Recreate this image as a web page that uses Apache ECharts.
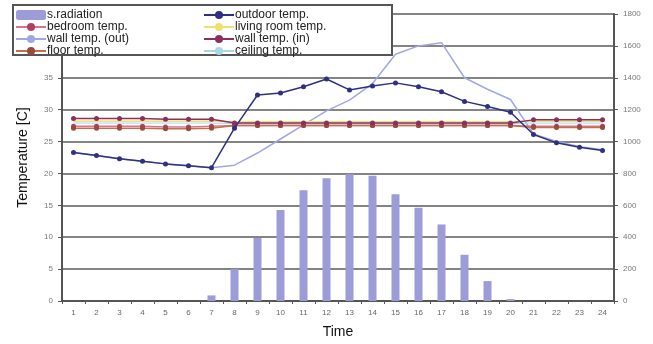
<!DOCTYPE html>
<html><head><meta charset="utf-8">
<script src="https://cdn.jsdelivr.net/npm/echarts@6/dist/echarts.min.js"></script>
<style>html,body{margin:0;padding:0;background:#fff}#c{width:653px;height:344px}</style>
</head><body><div id="c"></div>
<script>
var hours = ['1','2','3','4','5','6','7','8','9','10','11','12','13','14','15','16','17','18','19','20','21','22','23','24'];
var radiation = [0,0,0,0,0,0,35,200,395,570,695,770,795,785,670,585,480,290,125,12,0,0,0,0];
var outdoorTemp = [23.3,22.8,22.3,21.9,21.5,21.2,20.9,27.1,32.3,32.6,33.6,34.8,33.1,33.7,34.2,33.6,32.8,31.3,30.5,29.6,26.1,24.8,24.1,23.6];
var bedroomTemp = [27.4,27.4,27.4,27.4,27.3,27.3,27.4,27.5,27.5,27.5,27.5,27.5,27.5,27.5,27.5,27.5,27.5,27.5,27.5,27.5,27.4,27.4,27.4,27.4];
var livingTemp = [28.2,28.2,28.2,28.2,28.2,28.2,28.2,28.1,28.1,28.1,28.1,28.1,28.1,28.1,28.1,28.1,28.1,28.1,28.1,28.1,28.2,28.2,28.2,28.2];
var wallOutTemp = [23.3,22.8,22.3,21.9,21.5,21.2,20.9,21.3,23.2,25.4,27.6,29.8,31.5,34.1,38.7,40.0,40.5,35.0,33.2,31.6,26.2,25.0,24.2,23.7];
var wallInTemp = [28.6,28.6,28.6,28.6,28.5,28.5,28.5,27.9,27.9,27.9,27.9,27.9,27.9,27.9,27.9,27.9,27.9,27.9,27.9,27.9,28.4,28.4,28.4,28.4];
var floorTemp = [27.1,27.1,27.1,27.1,27.0,27.0,27.1,27.5,27.5,27.5,27.5,27.5,27.5,27.5,27.5,27.5,27.5,27.5,27.5,27.5,27.2,27.2,27.2,27.2];
var ceilingTemp = [27.9,27.9,27.9,27.9,27.9,27.9,27.9,27.8,27.8,27.8,27.8,27.8,27.8,27.8,27.8,27.8,27.8,27.8,27.8,27.8,27.9,27.9,27.9,27.9];
var leftTicks = {min:0,max:45,interval:5};
var rightTicks = {min:0,max:1800,interval:200};

var chart = echarts.init(document.getElementById('c'));
var F = 'Liberation Sans, Arial, sans-serif';
function lineS(name, data, color, mcolor, sym, width, z){
  return {name:name, type:'line', yAxisIndex:0, data:data, symbol:sym, symbolSize:5,
    lineStyle:{color:color,width:width||1.5}, itemStyle:{color:mcolor||color}, z:z||3, animation:false};
}
chart.setOption({
  animation:false,
  textStyle:{fontFamily:F},
  grid:{left:62,right:39,top:14,bottom:37},
  graphic:[{type:'rect',z:50,shape:{x:13,y:5,width:379,height:50},style:{fill:'#fff',stroke:'#555',lineWidth:2}}],
  legend:[
    {z:60,orient:'vertical',left:15,top:9,itemGap:0,itemWidth:30,itemHeight:10,
     textStyle:{fontSize:12,color:'#222',fontFamily:F,padding:[0,0,0,-4]},padding:0,
     data:['s.radiation','bedroom temp.','wall temp. (out)','floor temp.']},
    {z:60,orient:'vertical',left:203,top:9,itemGap:0,itemWidth:30,itemHeight:10,
     textStyle:{fontSize:12,color:'#222',fontFamily:F,padding:[0,0,0,-4]},padding:0,
     data:['outdoor temp.','living room temp.','wall temp. (in)','ceiling temp.']}
  ],
  xAxis:{type:'category',data:hours,boundaryGap:true,name:'Time',nameLocation:'middle',nameGap:24,
    nameTextStyle:{fontSize:14,color:'#111',fontFamily:F},
    axisLine:{lineStyle:{color:'#555',width:2}},axisTick:{show:true,lineStyle:{color:'#555'},length:3},
    axisLabel:{fontSize:8,color:'#666',margin:8,interval:0}},
  yAxis:[
    {type:'value',min:leftTicks.min,max:leftTicks.max,interval:leftTicks.interval,name:'Temperature [C]',
     nameLocation:'middle',nameGap:32,nameTextStyle:{fontSize:14,color:'#111',fontFamily:F},
     axisLine:{show:true,lineStyle:{color:'#555',width:2}},axisTick:{show:true,length:4,lineStyle:{color:'#555'}},
     axisLabel:{fontSize:8,color:'#777',margin:9},
     splitLine:{show:true,lineStyle:{color:'#848484',width:2}}},
    {type:'value',min:rightTicks.min,max:rightTicks.max,interval:rightTicks.interval,position:'right',
     axisLine:{show:true,lineStyle:{color:'#555',width:2}},axisTick:{show:true,length:4,lineStyle:{color:'#555'}},
     axisLabel:{fontSize:8,color:'#777',margin:9,formatter:function(v){return String(v);}},splitLine:{show:false}}
  ],
  series:[
    {name:'s.radiation',type:'bar',yAxisIndex:1,data:radiation,barWidth:8,itemStyle:{color:'#9c9cd8'},z:2},
    lineS('bedroom temp.',bedroomTemp,'#e07090','#b04060','circle',1.5,4),
    lineS('wall temp. (out)',wallOutTemp,'#a0a8e4','#a0a8e4','none',1.5,3),
    lineS('floor temp.',floorTemp,'#c0704a','#9a4a3a','circle',1.5,4),
    lineS('outdoor temp.',outdoorTemp,'#2e3080','#2e3080','circle',1.5,5),
    lineS('living room temp.',livingTemp,'#f0e070','#f0e070','none',1.5,3),
    lineS('wall temp. (in)',wallInTemp,'#8a3060','#8a3060','circle',1.5,4),
    lineS('ceiling temp.',ceilingTemp,'#a8d8e8','#a8d8e8','none',1,3)
  ]
});
</script></body></html>
